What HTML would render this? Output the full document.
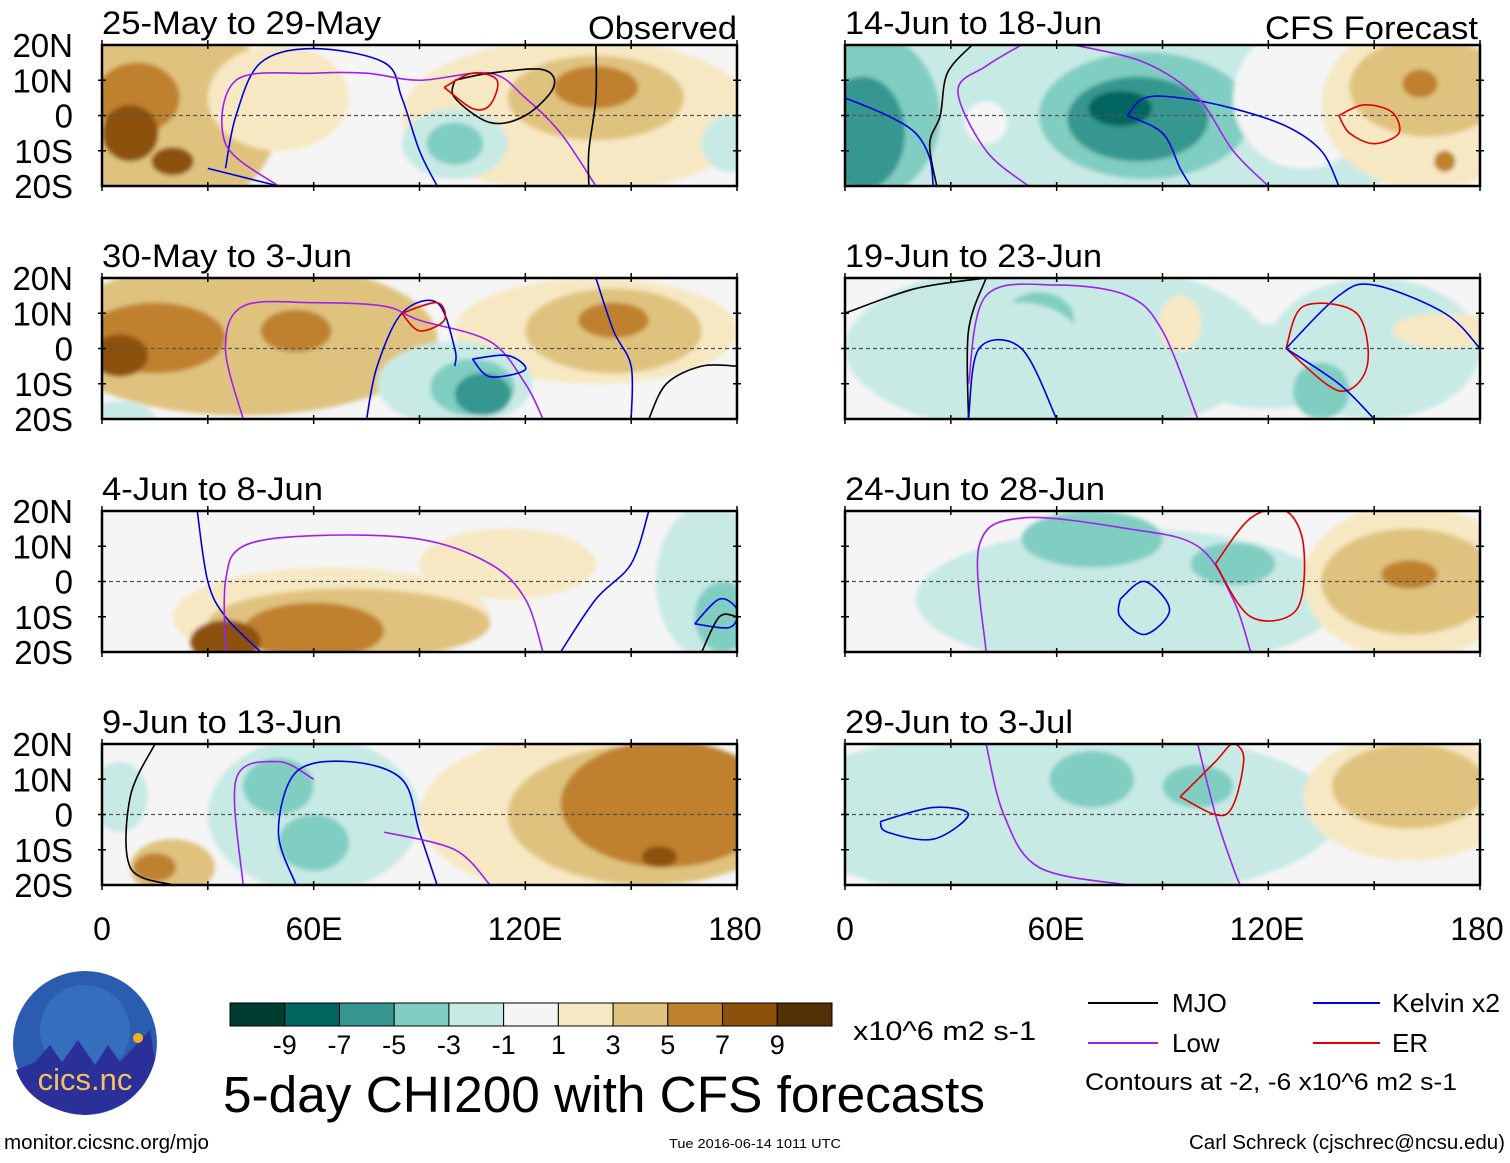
<!DOCTYPE html>
<html><head><meta charset="utf-8">
<style>
html,body{margin:0;padding:0;background:#fff;}
body{width:1510px;height:1158px;overflow:hidden;font-family:"Liberation Sans",sans-serif;}
svg text{font-family:"Liberation Sans",sans-serif;}
</style></head>
<body>
<svg id="chart" width="1510" height="1158" viewBox="0 0 1510 1158" xmlns="http://www.w3.org/2000/svg">
<defs><filter id="soft"><feGaussianBlur stdDeviation="2"/></filter></defs>
<g id="panels"></g>
<g font-size="32" text-anchor="middle">
<text x="102" y="940">0</text><text x="314" y="940">60E</text><text x="525" y="940">120E</text><text x="735" y="940">180</text>
</g>
<g font-size="32" text-anchor="middle">
<text x="845" y="940">0</text><text x="1056" y="940">60E</text><text x="1267" y="940">120E</text><text x="1477" y="940">180</text>
</g>
<g id="colorbar"></g>
<text x="853" y="1040" font-size="27" textLength="183" lengthAdjust="spacingAndGlyphs">x10^6 m2 s-1</text>
<text x="223" y="1112" font-size="51" textLength="762" lengthAdjust="spacingAndGlyphs">5-day CHI200 with CFS forecasts</text>
<g font-size="26">
<line x1="1088" y1="1003" x2="1158" y2="1003" stroke="#000" stroke-width="2"/><text x="1172" y="1012">MJO</text>
<line x1="1313" y1="1003" x2="1380" y2="1003" stroke="#0000e0" stroke-width="2"/><text x="1392" y="1012" textLength="108" lengthAdjust="spacingAndGlyphs">Kelvin x2</text>
<line x1="1088" y1="1043" x2="1158" y2="1043" stroke="#a020f0" stroke-width="2"/><text x="1172" y="1052">Low</text>
<line x1="1313" y1="1043" x2="1380" y2="1043" stroke="#e00000" stroke-width="2"/><text x="1392" y="1052">ER</text>
<text x="1085" y="1090" font-size="24" textLength="372" lengthAdjust="spacingAndGlyphs">Contours at -2, -6 x10^6 m2 s-1</text>
</g>
<g>
<circle cx="85" cy="1043" r="72" fill="#2a5db0"/>
<circle cx="85" cy="1030" r="45" fill="#3f7fc8" opacity="0.5"/>
<path d="M16,1070 L35,1062 L50,1045 L62,1062 L78,1040 L95,1065 L108,1045 L120,1062 L150,1030 L155,1060 Q140,1110 85,1115 Q30,1110 16,1070Z" fill="#2b2f9a"/>
<circle cx="138" cy="1038" r="5" fill="#f5b020"/>
<text x="85" y="1090" font-size="31" fill="#f4c060" text-anchor="middle">cics.nc</text>
</g>
<text x="4" y="1149" font-size="20" textLength="205" lengthAdjust="spacingAndGlyphs">monitor.cicsnc.org/mjo</text>
<text x="669" y="1148" font-size="13" textLength="172" lengthAdjust="spacingAndGlyphs">Tue 2016-06-14 1011 UTC</text>
<text x="1505" y="1149" font-size="20" text-anchor="end" textLength="316" lengthAdjust="spacingAndGlyphs">Carl Schreck (cjschrec@ncsu.edu)</text>
</svg>
<script>
const levels=[-9,-7,-5,-3,-1,1,3,5,7,9];
const colors=['#003c30','#01665e','#35978f','#80cdc1','#c7eae5','#f5f5f5','#f6e8c3','#dfc27d','#bf812d','#8c510a','#543005'];
const panelTitles=['25-May to 29-May','30-May to 3-Jun','4-Jun to 8-Jun','9-Jun to 13-Jun','14-Jun to 18-Jun','19-Jun to 23-Jun','24-Jun to 28-Jun','29-Jun to 3-Jul'];
const titleWidths=[279,250,221,240,257,257,260,228];
const latTicks=['20N','10N','0','10S','20S'];
// blobs: [lon, lat, rxDeg, ryDeg, value]
const blobs1=[[20,0,30,28,4],[10,5,12,10,6],[8,-5,8,8,8],[20,-13,6,4,8],[50,5,20,15,2],[135,0,50,22,2],[140,5,25,12,4],[140,8,12,6,6],[100,-8,15,10,-2],[100,-8,8,6,-4],[178,-8,8,8,-2]];
const blobs2=[[40,3,55,22,4],[15,3,20,10,6],[55,5,10,6,6],[5,-2,8,6,8],[140,5,40,15,2],[145,5,25,12,4],[145,8,10,5,6],[100,-10,22,12,-2],[105,-11,12,8,-4],[108,-13,8,6,-6],[5,-20,10,5,-2]];
const blobs3=[[65,-10,45,14,2],[70,-12,40,10,4],[60,-14,20,8,6],[35,-17,10,6,8],[115,5,25,10,2],[172,0,15,22,-2],[176,-10,8,10,-4]];
const blobs4=[[130,0,40,22,2],[155,0,40,20,4],[160,3,30,18,6],[158,-12,5,3,8],[60,0,30,22,-2],[50,8,10,8,-4],[60,-8,10,8,-4],[20,-15,12,8,4],[15,-15,6,4,6],[5,5,8,10,-2]];
const blobs5=[[75,0,100,30,-2],[5,0,22,24,-4],[5,-5,12,16,-6],[85,0,30,18,-4],[83,-1,20,12,-6],[78,2,9,5,-8],[40,-2,6,6,0],[130,5,20,20,0],[165,3,30,24,2],[165,8,22,14,4],[163,9,5,4,6],[170,-13,3,3,6]];
const blobs6=[[60,0,60,25,-2],[150,0,30,20,-2],[55,8,10,8,-4],[120,-5,25,12,-2],[135,-12,8,8,-4],[50,-5,20,18,-2],[170,5,15,5,2],[95,7,6,8,2]];
const blobs7=[[80,-5,60,20,-2],[70,12,20,8,-4],[110,5,12,6,-4],[160,0,30,22,2],[160,0,25,15,4],[160,2,8,4,6]];
const blobs8=[[60,0,80,25,-2],[70,10,12,8,-4],[100,8,10,6,-4],[160,5,30,18,2],[160,8,22,12,4]];
const panelBlobs=[blobs1,blobs2,blobs3,blobs4,blobs5,blobs6,blobs7,blobs8];
// contour lines: [color, [lon,lat,...]]
const lines1=[['#0000e0',[35,-15,38,0,45,15,60,19,80,15,85,5,90,-10,95,-20]],['#0000e0',[50,-20,30,-15]],['#a020f0',[50,-20,35,-8,38,10,60,12,75,12,90,10,110,12,120,5,130,-5,140,-20]],['#000',[100,10,110,12,125,13,128,8,120,0,110,-2,100,5,100,10]],['#e00000',[97,8,105,12,112,10,110,3,105,2,97,8]],['#000',[140,20,140,5,138,-10,138,-20]]];
const lines2=[['#a020f0',[40,-20,35,0,40,12,60,13,80,12,90,8,110,2,120,-10,125,-20]],['#0000e0',[75,-20,78,-5,85,10,95,13,100,0,100,-5]],['#0000e0',[105,-3,115,-2,120,-6,110,-8,105,-3]],['#0000e0',[140,20,145,5,150,-5,150,-20]],['#e00000',[85,10,95,13,97,8,90,5,85,10]],['#000',[155,-20,160,-10,170,-5,180,-5]]];
const lines3=[['#0000e0',[27,20,30,0,35,-10,45,-20]],['#a020f0',[35,-20,35,0,40,10,60,13,90,12,110,5,120,-5,125,-20]],['#0000e0',[130,-20,140,-5,150,5,155,20]],['#0000e0',[168,-12,175,-5,180,-8,178,-13,168,-12]],['#000',[170,-20,175,-10,180,-10]]];
const lines4=[['#000',[15,20,8,5,8,-15,20,-20]],['#a020f0',[40,-20,38,10,50,15,60,10]],['#0000e0',[55,-20,50,-5,55,12,70,15,85,10,90,-5,95,-20]],['#a020f0',[110,-20,100,-10,80,-5]]];
const lines5=[['#000',[36,20,29,12,27,0,24,-8,26,-20]],['#0000e0',[0,5,12,0,20,-5,24,-12,25,-20]],['#a020f0',[50,20,40,14,32,7,40,-10,52,-20]],['#0000e0',[80,0,85,5,95,5,110,2,125,-3,135,-10,140,-20]],['#0000e0',[80,0,90,-5,95,-15,98,-20]],['#a020f0',[65,20,85,15,100,5,110,-10,120,-20]],['#e00000',[140,0,147,3,155,1,157,-5,150,-8,143,-5,140,0]]];
const lines6=[['#000',[0,10,20,17,40,20]],['#000',[35,-20,35,5,40,20]],['#0000e0',[35,-20,38,0,50,0,60,-20]],['#a020f0',[35,-10,40,15,60,18,80,15,90,5,100,-20]],['#0000e0',[125,0,140,15,150,18,170,10,180,0]],['#e00000',[125,0,130,12,145,10,148,-5,140,-12,125,0]],['#0000e0',[125,0,140,-10,150,-20]]];
const lines7=[['#a020f0',[40,-20,38,10,50,18,80,15,100,10,110,-5,115,-20]],['#0000e0',[78,-5,85,0,92,-8,85,-15,78,-10,78,-5]],['#e00000',[105,5,115,18,125,20,130,10,128,-8,115,-10,105,5]]];
const lines8=[['#0000e0',[10,-2,25,2,35,0,25,-7,12,-5,10,-2]],['#a020f0',[40,20,45,0,55,-15,80,-20]],['#a020f0',[100,20,105,0,110,-15,112,-20]],['#e00000',[95,5,105,15,110,20,113,15,108,0,95,5]]];
const panelLines=[lines1,lines2,lines3,lines4,lines5,lines6,lines7,lines8];

const NS='http://www.w3.org/2000/svg';
const x0s=[102,845], ytops=[45,278,511,744], W=635, H=141;
function colorFor(v){let i=0;while(i<levels.length&&v>levels[i])i++;return colors[i];}
function smooth(pts){
  let d='M'+pts[0][0]+','+pts[0][1];
  for(let i=0;i<pts.length-1;i++){
    const p0=pts[Math.max(0,i-1)],p1=pts[i],p2=pts[i+1],p3=pts[Math.min(pts.length-1,i+2)];
    const c1=[p1[0]+(p2[0]-p0[0])/6,p1[1]+(p2[1]-p0[1])/6];
    const c2=[p2[0]-(p3[0]-p1[0])/6,p2[1]-(p3[1]-p1[1])/6];
    d+=' C'+c1[0]+','+c1[1]+' '+c2[0]+','+c2[1]+' '+p2[0]+','+p2[1];
  }
  return d;
}
const root=document.getElementById('panels');
panelTitles.forEach((t,p)=>{
  const col=p<4?0:1,row=p%4;
  const px=x0s[col],py=ytops[row];
  const xs=lon=>px+lon*W/180, ys=lat=>py+H/2-lat*H/40;
  const g=document.createElementNS(NS,'g');
  
  
  root.appendChild(g);
  const cp=document.createElementNS(NS,'clipPath');cp.id='clip'+p;
  const cr=document.createElementNS(NS,'rect');cr.setAttribute('x',px);cr.setAttribute('y',py);cr.setAttribute('width',W);cr.setAttribute('height',H);
  cp.appendChild(cr);g.appendChild(cp);
  const inner=document.createElementNS(NS,'g');inner.setAttribute('clip-path','url(#clip'+p+')');g.appendChild(inner);
  const bg=document.createElementNS(NS,'rect');bg.setAttribute('x',px);bg.setAttribute('y',py);bg.setAttribute('width',W);bg.setAttribute('height',H);bg.setAttribute('fill','#f5f5f5');
  inner.appendChild(bg);
  const fg=document.createElementNS(NS,'g');fg.setAttribute('filter','url(#soft)');inner.appendChild(fg);
  panelBlobs[p].forEach(b=>{
    const e=document.createElementNS(NS,'ellipse');
    
    
    e.setAttribute('cx',xs(b[0]));e.setAttribute('cy',ys(b[1]));
    e.setAttribute('rx',b[2]*W/180);e.setAttribute('ry',b[3]*H/40);
    e.setAttribute('fill',colorFor(b[4]));
    fg.appendChild(e);
  });
  const eq=document.createElementNS(NS,'line');
  eq.setAttribute('x1',px);eq.setAttribute('x2',px+W);eq.setAttribute('y1',ys(0));eq.setAttribute('y2',ys(0));
  eq.setAttribute('stroke','#555');eq.setAttribute('stroke-dasharray','4,3');eq.setAttribute('stroke-width','1.2');
  inner.appendChild(eq);
  panelLines[p].forEach(l=>{
    const pts=[];for(let i=0;i<l[1].length;i+=2)pts.push([xs(l[1][i]),ys(l[1][i+1])]);
    const pl=document.createElementNS(NS,'path');
    
    
    pl.setAttribute('d',smooth(pts));pl.setAttribute('fill','none');
    pl.setAttribute('stroke',l[0]);pl.setAttribute('stroke-width','1.6');pl.setAttribute('stroke-linejoin','round');
    inner.appendChild(pl);
  });
  const fr=document.createElementNS(NS,'rect');
  fr.setAttribute('x',px);fr.setAttribute('y',py);fr.setAttribute('width',W);fr.setAttribute('height',H);
  fr.setAttribute('fill','none');fr.setAttribute('stroke','#000');fr.setAttribute('stroke-width','2.5');
  g.appendChild(fr);
  for(let k=0;k<=6;k++){const tx=xs(k*30);
    [py,py+H].forEach((yy,j)=>{const tl=document.createElementNS(NS,'line');tl.setAttribute('x1',tx);tl.setAttribute('x2',tx);
      tl.setAttribute('y1',j?yy-4:yy-5);tl.setAttribute('y2',j?yy+5:yy+4);tl.setAttribute('stroke','#000');tl.setAttribute('stroke-width','1.5');g.appendChild(tl);});}
  for(let k=1;k<4;k++){const ty=py+k*H/4;
    [px,px+W].forEach((xx,j)=>{const tl=document.createElementNS(NS,'line');tl.setAttribute('y1',ty);tl.setAttribute('y2',ty);
      tl.setAttribute('x1',xx-4);tl.setAttribute('x2',xx+4);tl.setAttribute('stroke','#000');tl.setAttribute('stroke-width','1.5');g.appendChild(tl);});}
  const tt=document.createElementNS(NS,'text');
  
  
  tt.setAttribute('x',px);tt.setAttribute('y',py-11);tt.setAttribute('font-size','32');
  tt.setAttribute('textLength',titleWidths[p]);tt.setAttribute('lengthAdjust','spacingAndGlyphs');
  tt.textContent=t;g.appendChild(tt);
  if(row===0){const st=document.createElementNS(NS,'text');
    
    
    st.setAttribute('x',col?1265:588);st.setAttribute('y',py-6);st.setAttribute('font-size','32');
    st.setAttribute('textLength',col?213:149);st.setAttribute('lengthAdjust','spacingAndGlyphs');
    st.textContent=col?'CFS Forecast':'Observed';g.appendChild(st);}
  if(col===0){latTicks.forEach((lt,k)=>{const tx=document.createElementNS(NS,'text');
    
    
    tx.setAttribute('x',73);tx.setAttribute('y',py+k*H/4+12);tx.setAttribute('font-size','33');tx.setAttribute('text-anchor','end');
    tx.textContent=lt;g.appendChild(tx);});}
});
const cb=document.getElementById('colorbar');
const cbx=230,cbw=602/11;
colors.forEach((c,i)=>{const r=document.createElementNS(NS,'rect');
  
  
  r.setAttribute('x',cbx+i*cbw);r.setAttribute('y',1003);r.setAttribute('width',cbw);r.setAttribute('height',23);
  r.setAttribute('fill',c);r.setAttribute('stroke','#000');r.setAttribute('stroke-width','1');cb.appendChild(r);});
levels.forEach((v,i)=>{const t=document.createElementNS(NS,'text');
  
  
  t.setAttribute('x',cbx+(i+1)*cbw);t.setAttribute('y',1054);t.setAttribute('font-size','27');t.setAttribute('text-anchor','middle');
  t.textContent=v;cb.appendChild(t);});
</script>
</body></html>
